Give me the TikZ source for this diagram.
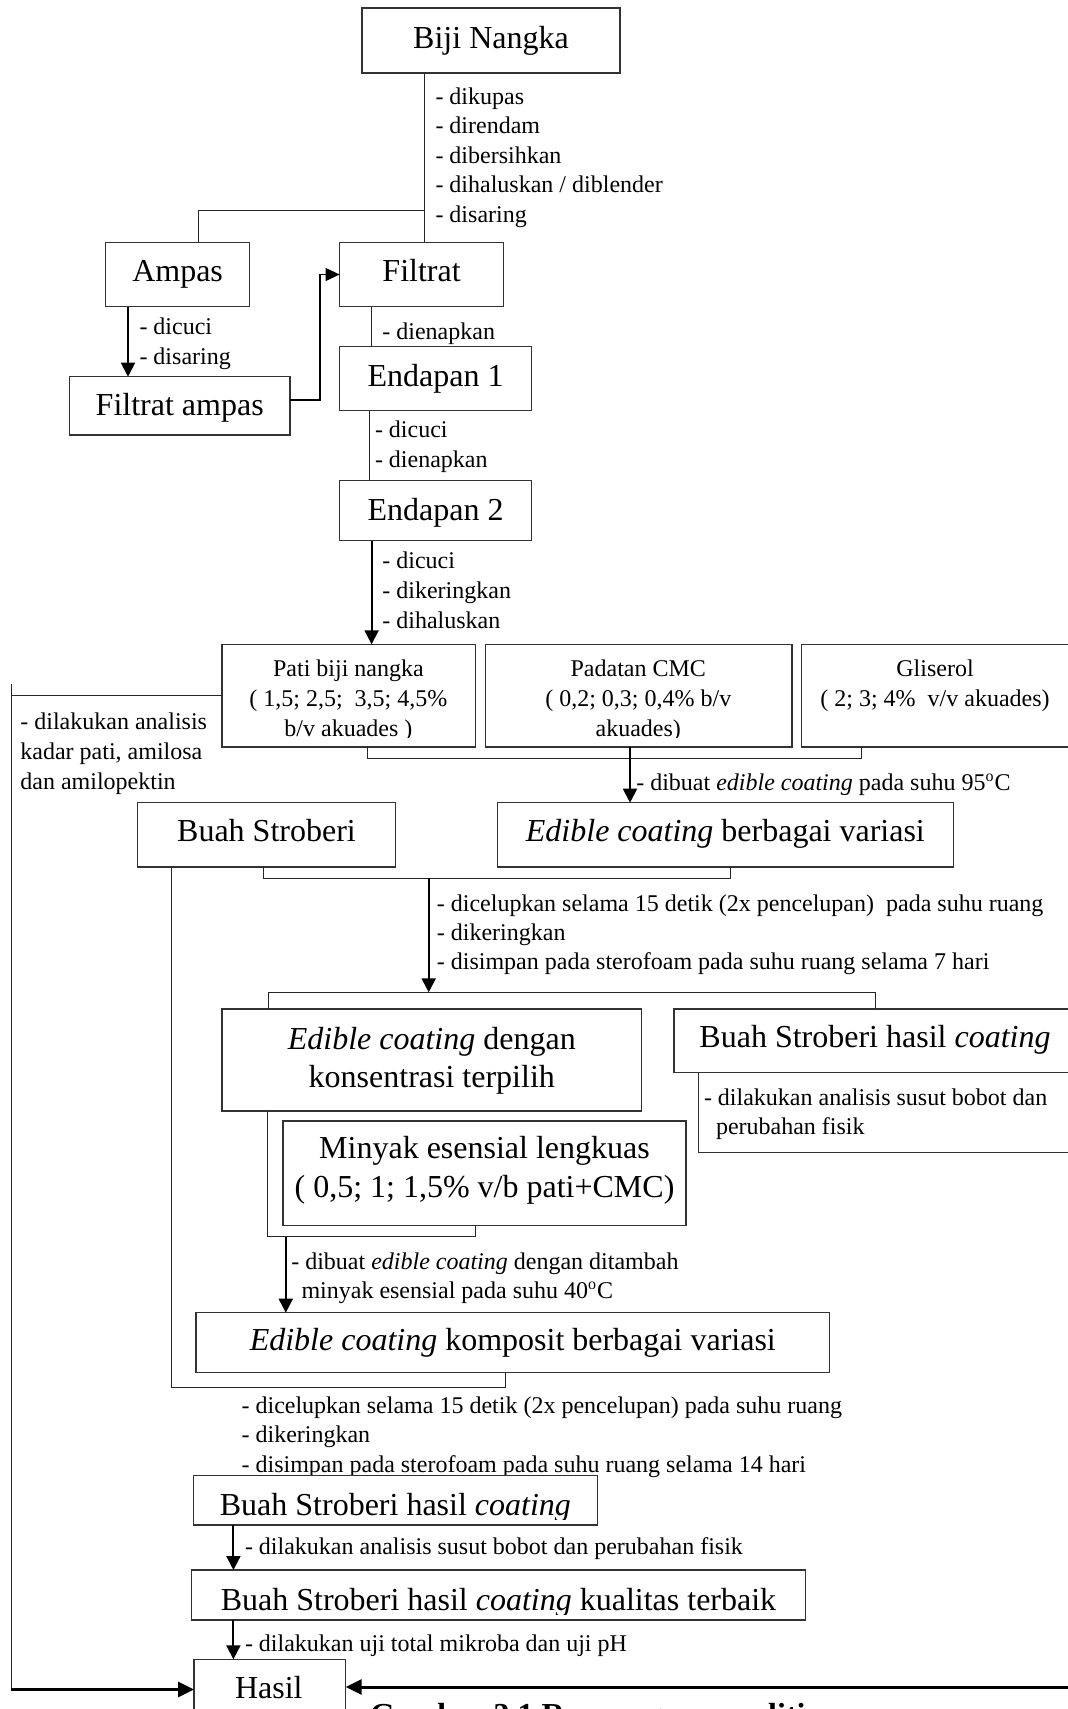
\documentclass[tikz,border=0pt]{standalone}
\usepackage{fontspec}
\setmainfont{Liberation Serif}
\usetikzlibrary{arrows.meta}
\tikzset{
 box/.style={draw=black!80, line width=0.7pt, fill=white, inner sep=0pt, outer sep=0pt, anchor=north west},
 smalltxt/.style={font=\fontsize{12}{14}\selectfont, inner sep=0pt, outer sep=0pt},
 bigtxt/.style={font=\fontsize{16}{19}\selectfont, inner sep=0pt, outer sep=0pt},
 ln/.style={draw=black!85, line width=0.5pt},
 arr/.style={draw=black, line width=1pt, -{Triangle[length=7pt,width=7pt]}},
 thinarr/.style={draw=black, line width=0.6pt, -{Triangle[length=7pt,width=6.5pt]}},
 bigarr/.style={draw=black, line width=1.5pt, -{Triangle[length=8pt,width=7.5pt]}},
}
\newcommand{\boxn}[5]{\node[box, minimum width={(#4-#2)*0.5pt}, minimum height={(#5-#3)*0.5pt}] (#1) at (#2,#3) {};}
\newcommand{\smt}[4]{\node[smalltxt, anchor=base west] (#1) at (#2,#3) {#4};}
\newcommand{\smc}[4]{\node[smalltxt, anchor=base] (#1) at (#2,#3) {#4};}
\newcommand{\bigt}[4]{\node[bigtxt, anchor=base] (#1) at (#2,#3) {#4};}
\begin{document}
\begin{tikzpicture}[x=0.5pt,y=-0.5pt]
\useasboundingbox (0,0) rectangle (1067,1709);

% ---------- step labels (drawn first, boxes cover them) ----------
\smt{l1}{435.5}{104}{- dikupas}
\smt{l2}{435.5}{133.6}{- direndam}
\smt{l3}{435.5}{163.2}{- dibersihkan}
\smt{l4}{435.5}{192.8}{- dihaluskan / diblender}
\smt{l5}{435.5}{222.4}{- disaring}
\smt{l6}{139.5}{334}{- dicuci}
\smt{l7}{139.5}{364}{- disaring}
\smt{l8}{382.4}{339}{- dienapkan}
\smt{l9}{375}{437}{- dicuci}
\smt{l10}{375}{467}{- dienapkan}
\smt{l11}{382.4}{568}{- dicuci}
\smt{l12}{382.4}{598}{- dikeringkan}
\smt{l13}{382.4}{628}{- dihaluskan}
\smt{l14}{20.4}{729}{- dilakukan analisis}
\smt{l15}{20.4}{759}{kadar pati, amilosa}
\smt{l16}{20.4}{789}{dan amilopektin}
\smt{l17}{636.3}{790}{- dibuat \textit{edible coating} pada suhu 95\textsuperscript{o}C}
\smt{l18}{436.9}{911}{- dicelupkan selama 15 detik (2x pencelupan)\ \ pada suhu ruang}
\smt{l19}{436.9}{940}{- dikeringkan}
\smt{l20}{436.9}{969}{- disimpan pada sterofoam pada suhu ruang selama 7 hari}
\smt{l23}{291.3}{1269}{- dibuat \textit{edible coating} dengan ditambah}
\smt{l24}{301.5}{1298}{minyak esensial pada suhu 40\textsuperscript{o}C}
\smt{l25}{241.6}{1413}{- dicelupkan selama 15 detik (2x pencelupan) pada suhu ruang}
\smt{l26}{241.6}{1442}{- dikeringkan}
\smt{l27}{241.6}{1472.5}{- disimpan pada sterofoam pada suhu ruang selama 14 hari}
\smt{l28}{245}{1554}{- dilakukan analisis susut bobot dan perubahan fisik}
\smt{l29}{245}{1651}{- dilakukan uji total mikroba dan uji pH}

% ---------- boxes ----------
\boxn{biji}{362}{8}{620}{73}
\boxn{ampas}{105.5}{242.3}{249.7}{306.7}
\boxn{filtrat}{339.6}{242.3}{503.6}{306.7}
\boxn{fampas}{69.4}{376.7}{290}{435}
\boxn{end1}{339.6}{346.7}{531.5}{410.7}
\boxn{end2}{339.6}{480.7}{531.5}{540.7}
\boxn{pati}{221.8}{644.3}{475.7}{747}
\boxn{cmc}{485.2}{644.3}{792.1}{747}
\boxn{gli}{801.6}{644.3}{1070}{747}
\boxn{buah1}{137.5}{802.7}{395.4}{867}
\boxn{edible1}{497.4}{802.7}{953.4}{867}
\boxn{ed2}{221.8}{1009}{641.7}{1111}
\boxn{anal}{698.2}{1072.7}{1076}{1152.3}
\boxn{buahR}{674}{1009}{1076}{1072.7}
\boxn{minyak}{283.1}{1121}{686}{1225.3}
\boxn{komp}{196}{1312.7}{829.5}{1372.7}
\boxn{buahL}{193.3}{1475.7}{597.5}{1525}
\boxn{kual}{191.2}{1570}{805.7}{1620}
\boxn{hasil}{194}{1659.3}{345.7}{1760}

% ---------- box texts ----------
\bigt{tbiji}{491}{48.3}{Biji Nangka}
\bigt{tampas}{177.6}{281.7}{Ampas}
\bigt{tfiltrat}{421.6}{281.7}{Filtrat}
\bigt{tend1}{435.6}{386}{Endapan 1}
\bigt{tend2}{435.6}{520}{Endapan 2}
\bigt{tfampas}{179.7}{415}{Filtrat ampas}
\begin{scope}
\clip (pati.north west) rectangle ([yshift=5pt]cmc.south east);
\smc{tp1}{348.4}{676.5}{Pati biji nangka}
\smc{tp2}{348.4}{706.5}{( 1,5; 2,5;\ \ 3,5; 4,5\%}
\smc{tp3}{348.4}{736}{b/v akuades )}
\smc{tc1}{638.3}{676.5}{Padatan CMC}
\smc{tc2}{638.3}{706.5}{( 0,2; 0,3; 0,4\% b/v}
\smc{tc3}{638.3}{736}{akuades)}
\end{scope}
\smc{tg1}{935}{676.5}{Gliserol}
\smc{tg2}{935}{706.5}{( 2; 3; 4\%\ \ v/v akuades)}
\bigt{tbuah1}{266.5}{841.7}{Buah Stroberi}
\bigt{tedible1}{725.4}{841.7}{\textit{Edible coating} berbagai variasi}
\bigt{ted2a}{431.8}{1049.3}{\textit{Edible coating} dengan}
\bigt{ted2b}{431.8}{1087.3}{konsentrasi terpilih}
\bigt{tbuahR}{875}{1047}{Buah Stroberi hasil \textit{coating}}
\smt{l21}{704}{1105}{- dilakukan analisis susut bobot dan}
\smt{l22}{716}{1134}{perubahan fisik}
\bigt{tmin1}{484.5}{1158.5}{Minyak esensial lengkuas}
\bigt{tmin2}{484.5}{1197}{( 0,5; 1; 1,5\% v/b pati+CMC)}
\bigt{tkomp}{512.8}{1350.7}{\textit{Edible coating} komposit berbagai variasi}
\begin{scope}
\clip (buahL.north west) rectangle ([yshift=3pt]buahL.south east);
\bigt{tbuahL}{395.4}{1515}{Buah Stroberi hasil \textit{coating}}
\end{scope}
\begin{scope}
\clip (kual.north west) rectangle ([yshift=3pt]kual.south east);
\bigt{tkual}{498.5}{1610}{Buah Stroberi hasil \textit{coating} kualitas terbaik}
\end{scope}
\bigt{thasil}{268.8}{1698}{Hasil}
\node[bigtxt, font=\fontsize{16}{19}\selectfont\bfseries, anchor=base west] (cap) at (370,1725) {Gambar 3.1 Rancangan penelitian};

% ---------- connectors ----------
\coordinate (j1) at (424.6,210);
\coordinate (j1a) at (198.7,210);
\draw[ln] (j1 |- biji.south) -- (j1 |- filtrat.north);
\draw[ln] (j1) -- (j1a) -- (j1a |- ampas.north);

\coordinate (k1) at (128,0);
\draw[arr] (k1 |- ampas.south) -- (k1 |- fampas.north);

\coordinate (k2) at (320,400);
\draw[thinarr] (fampas.east |- k2) -- (k2) -- (k2 |- filtrat.west) -- (filtrat.west);

\coordinate (k3) at (371.6,0);
\coordinate (k4) at (369.5,0);
\draw[ln] (k3 |- filtrat.south) -- (k3 |- end1.north);
\draw[ln] (k4 |- end1.south) -- (k4 |- end2.north);
\draw[arr] (k3 |- end2.south) -- (k3 |- pati.north);

\coordinate (lt) at (11,684);
\coordinate (lb) at (11,1689.5);
\draw[ln] (lt) -- (lb);
\draw[ln] (lt |- pati.west) -- (pati.west);
\draw[bigarr] (lb) -- (lb -| hasil.west);

\coordinate (b1) at (367.5,758.3);
\coordinate (b2) at (861.5,758.3);
\draw[ln] (b1 |- pati.south) -- (b1) -- (b2) -- (b2 |- gli.south);
\coordinate (k5) at (630,0);
\draw[arr] (k5 |- cmc.south) -- (k5 |- edible1.north);

\coordinate (b3) at (263.4,878.3);
\coordinate (b4) at (730.2,878.3);
\draw[ln] (b3 |- buah1.south) -- (b3) -- (b4) -- (b4 |- edible1.south);
\coordinate (b7) at (268.8,992.3);
\coordinate (b8) at (875.1,992.3);
\draw[ln] (b7 |- ed2.north) -- (b7) -- (b8) -- (b8 |- buahR.north);
\coordinate (b5) at (428.7,878.3);
\draw[arr] (b5) -- (b5 |- b7);

\coordinate (k6) at (171.5,0);
\coordinate (b9) at (505.6,1387.3);
\draw[ln] (k6 |- buah1.south) -- (k6 |- b9) -- (b9) -- (b9 |- komp.south);

\coordinate (b10) at (267.4,1236.7);
\coordinate (b11) at (475,1236.7);
\draw[ln] (b10 |- ed2.south) -- (b10) -- (b11) -- (b11 |- minyak.south);
\coordinate (k7) at (285.8,0);
\draw[arr] (k7 |- b10) -- (k7 |- komp.north);

\coordinate (k8) at (233.4,0);
\draw[arr] (k8 |- buahL.south) -- (k8 |- kual.north);
\draw[arr] (k8 |- kual.south) -- (k8 |- hasil.north);

\coordinate (rr) at (1075,1687);
\draw[bigarr] (rr) -- (rr -| hasil.east);
\end{tikzpicture}
\end{document}
